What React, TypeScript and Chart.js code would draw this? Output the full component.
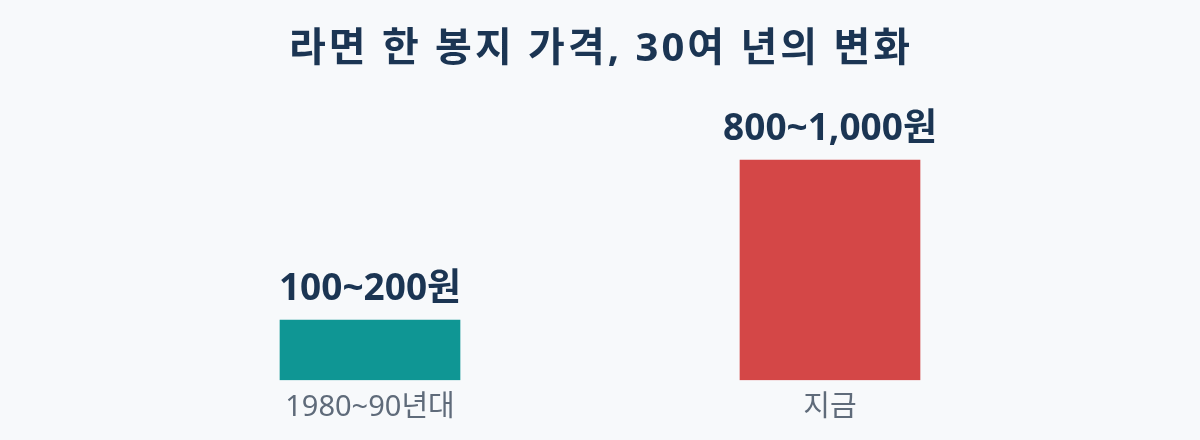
import { useEffect, useRef } from "react";
import Chart from "chart.js/auto";

const titleText = "라면 한 봉지 가격, 30여 년의 변화";
const periods = ["1980~90년대", "지금"];
const barHeights = [60, 220]; // relative bar size as drawn
const priceLabels = ["100~200원", "800~1,000원"];
const barColors = ["#0f9694", "#d44747"];

const FONT = "'Noto Sans', 'Noto Sans CJK KR', sans-serif";

// title drawn by hand so it can sit at a fixed spot
const titlePlugin = {
  id: "fixedTitle",
  afterDraw(chart: any) {
    const { ctx, width } = chart;
    ctx.save();
    ctx.font = `bold 40px ${FONT}`;
    (ctx as any).letterSpacing = "3px";
    ctx.fillStyle = "#1b3553";
    ctx.textAlign = "center";
    ctx.textBaseline = "middle";
    ctx.fillText(titleText, width / 2 + 1, 50);
    ctx.restore();
  },
};

// draws the price text above each bar
const priceLabelPlugin = {
  id: "priceLabels",
  afterDatasetsDraw(chart: any) {
    const { ctx } = chart;
    const meta = chart.getDatasetMeta(0);
    ctx.save();
    ctx.font = `bold 37px ${FONT}`;
    ctx.fillStyle = "#1b3553";
    ctx.textAlign = "center";
    ctx.textBaseline = "bottom";
    meta.data.forEach((bar: any, i: number) => {
      ctx.fillText(priceLabels[i], bar.x, bar.y - 12);
    });
    ctx.restore();
  },
};

const App = () => {
  const canvasRef = useRef<any>(null);

  useEffect(() => {
    const ctx = canvasRef?.current?.getContext("2d");
    const chart = new Chart(ctx, {
      type: "bar",
      data: {
        labels: periods,
        datasets: [
          {
            data: barHeights,
            backgroundColor: barColors,
            barThickness: 180,
          },
        ],
      },
      options: {
        animation: false,
        responsive: true,
        maintainAspectRatio: false,
        layout: { padding: { left: 140, right: 140, top: 140, bottom: 5 } },
        scales: {
          x: {
            grid: { display: false, drawTicks: false },
            border: { display: false },
            ticks: {
              color: "#5f6b7a",
              padding: 10,
              font: { family: FONT, size: 29 },
            },
          },
          y: {
            display: false,
            min: 0,
            max: 240,
          },
        },
        plugins: {
          legend: { display: false },
          tooltip: { enabled: false },
          title: { display: false },
        },
      },
      plugins: [priceLabelPlugin, titlePlugin],
    });

    return () => {
      chart.destroy();
    };
  }, []);

  return (
    <div
      style={{
        position: "fixed",
        left: 0,
        top: 0,
        width: 1200,
        height: 440,
        background: "#f7f9fb",
      }}
    >
      <canvas ref={canvasRef}></canvas>
    </div>
  );
};

export default App;
